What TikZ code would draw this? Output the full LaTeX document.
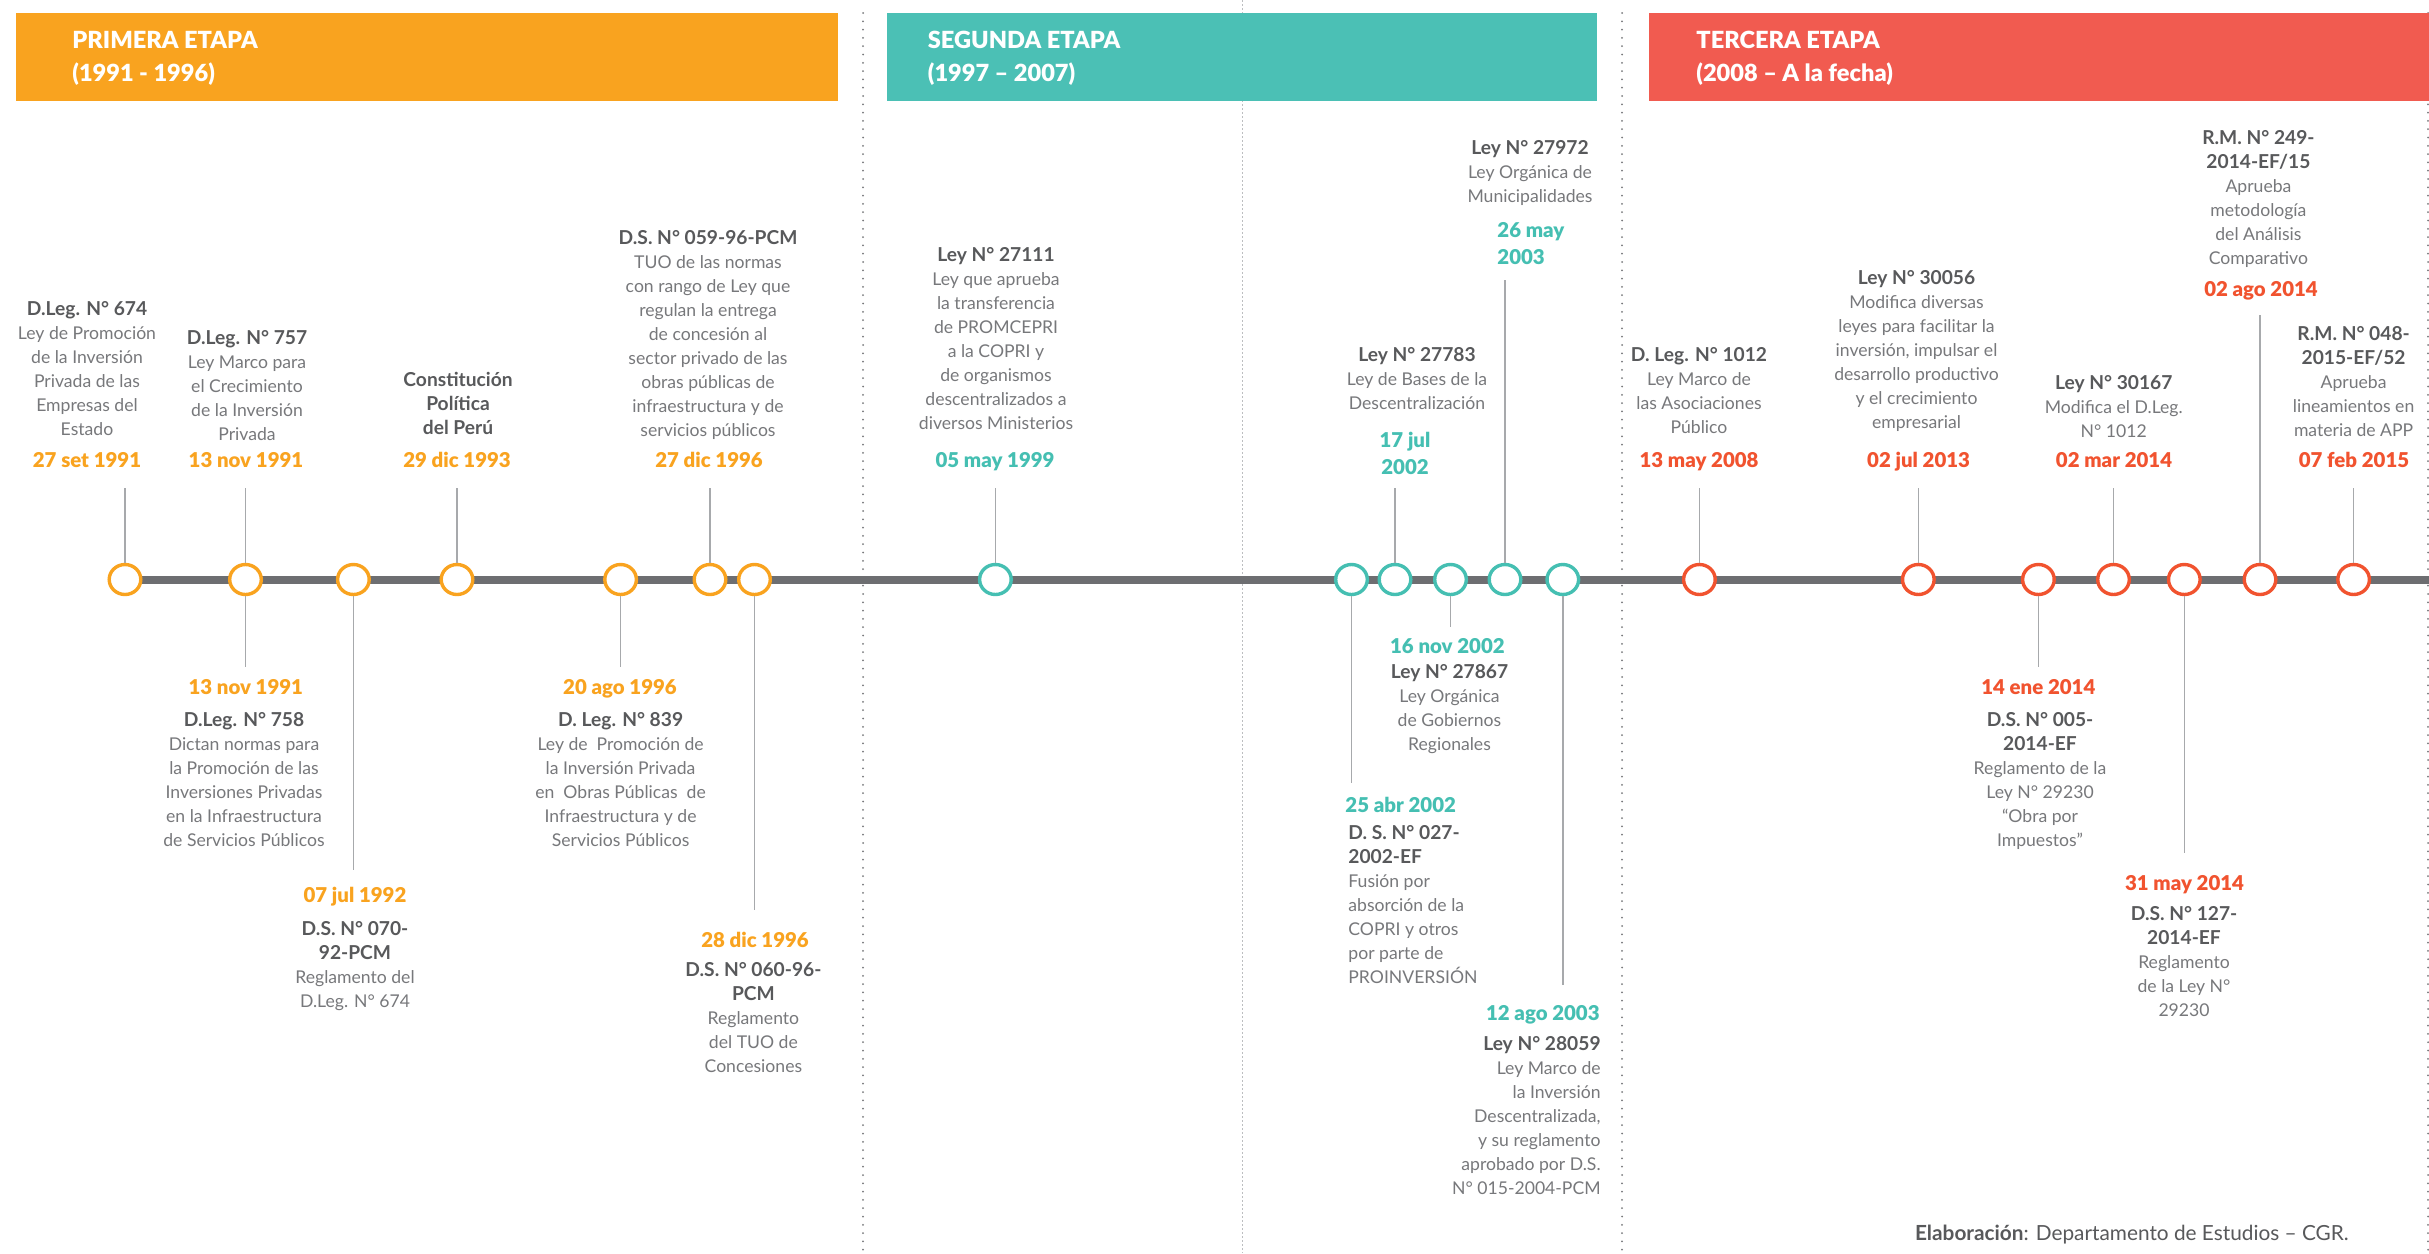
\documentclass[tikz,border=0pt]{standalone}
\usepackage{fontspec}
\setmainfont{Lato}[BoldFont={Lato Bold}]
\newfontfamily\datef{Lato Black}
\newfontfamily\regf{Lato}[BoldFont={Lato Bold}]
\usetikzlibrary{shapes.geometric}
\definecolor{orH}{HTML}{F9A31F}
\definecolor{orD}{HTML}{F9A31F}
\definecolor{tlH}{HTML}{4BC0B5}
\definecolor{tlD}{HTML}{45BFB2}
\definecolor{rdH}{HTML}{F15B50}
\definecolor{rdD}{HTML}{F1532F}
\definecolor{bargray}{HTML}{6D6E71}
\definecolor{conngray}{HTML}{A7A9AC}
\definecolor{bodygray}{HTML}{77787B}
\definecolor{titlegray}{HTML}{58595B}
\definecolor{dotdark}{HTML}{77787B}
\definecolor{dotlight}{HTML}{BCBEC0}
\newcommand\ttl[1]{\rule{0pt}{9pt}{\fontsize{9.6}{12}\selectfont\bfseries\color{titlegray}#1}}
\newcommand\ttb[1]{{\fontsize{9.6}{12}\selectfont\bfseries\color{titlegray}#1}}
\begin{document}
\begin{tikzpicture}[x=0.5pt,y=-0.5pt,
  circ/.style={ellipse, draw=#1, line width=1.7pt, fill=white, minimum width=15.8pt, minimum height=15pt, inner sep=0pt},
  conn/.style={draw=conngray, line width=0.8pt},
  desc/.style={font=\fontsize{8.8}{12}\selectfont, text=bodygray, align=center, inner sep=0pt, anchor=north},
  datelbl/.style={font=\datef\fontsize{10.2}{13.5}\selectfont, text=#1, inner sep=0pt, anchor=base},
  hdrtxt/.style={font=\datef\fontsize{11.8}{16.5}\selectfont, text=white, align=left, inner sep=0pt, anchor=north west},
  dkdots/.style={draw=dotdark, line width=1pt, dash pattern=on 0pt off 4.15pt, line cap=round},
  ltdots/.style={draw=dotlight, line width=0.5pt, dash pattern=on 0.8pt off 1.2pt}]
\useasboundingbox (0,0) rectangle (2429,1253);
\fill[white] (0,0) rectangle (2429,1253);
% dividers
\draw[ltdots] (1242,0) -- (1242,1253);
\draw[dkdots] (863,13) -- (863,1253);
\draw[dkdots] (1622,13) -- (1622,1253);
\draw[dkdots] (2428,13) -- (2428,1253);
% headers
\fill[orH] (16,13) rectangle (838,101);
\fill[tlH] (887,13) rectangle (1597,101);
\fill[rdH] (1648.6,13) rectangle (2429,101);
\node[hdrtxt] (h1) at (72,24) {\rule{0pt}{12pt}PRIMERA ETAPA\\(1991 - 1996)};
\node[hdrtxt] (h2) at (927.5,24) {\rule{0pt}{12pt}SEGUNDA ETAPA\\(1997 – 2007)};
\node[hdrtxt] (h3) at (1696,24) {\rule{0pt}{12pt}TERCERA ETAPA\\(2008 – A la fecha)};
% timeline bar
\coordinate (barstart) at (125,579.5);
\coordinate (barend) at (2429,579.5);
\draw[bargray, line width=4pt] (barstart) -- (barend);
% circles
\node[circ=orD] (o1) at (125,579.5) {};
\node[circ=orD] (o2) at (245.5,579.5) {};
\node[circ=orD] (o3) at (353.4,579.5) {};
\node[circ=orD] (o4) at (457,579.5) {};
\node[circ=orD] (o5) at (620.6,579.5) {};
\node[circ=orD] (o6) at (710,579.5) {};
\node[circ=orD] (o7) at (754.5,579.5) {};
\node[circ=tlD] (t1) at (995.4,579.5) {};
\node[circ=tlD] (t2) at (1351.5,579.5) {};
\node[circ=tlD] (t3) at (1395,579.5) {};
\node[circ=tlD] (t4) at (1450.5,579.5) {};
\node[circ=tlD] (t5) at (1505,579.5) {};
\node[circ=tlD] (t6) at (1562.8,579.5) {};
\node[circ=rdD] (r1) at (1699.4,579.5) {};
\node[circ=rdD] (r2) at (1918.3,579.5) {};
\node[circ=rdD] (r3) at (2038.4,579.5) {};
\node[circ=rdD] (r4) at (2113.5,579.5) {};
\node[circ=rdD] (r5) at (2184.3,579.5) {};
\node[circ=rdD] (r6) at (2260,579.5) {};
\node[circ=rdD] (r7) at (2353.6,579.5) {};
% connector ends
\coordinate (o1u) at (125,488);
\coordinate (o2u) at (245.5,488);
\coordinate (o2d) at (245.5,667);
\coordinate (o3d) at (353.4,870);
\coordinate (o4u) at (457,488);
\coordinate (o5d) at (620.6,667);
\coordinate (o6u) at (710,488);
\coordinate (o7d) at (754.5,909.5);
\coordinate (t1u) at (995.4,488);
\coordinate (t2d) at (1351.5,783);
\coordinate (t3u) at (1395,488);
\coordinate (t4d) at (1450.5,626.5);
\coordinate (t5u) at (1505,280);
\coordinate (t6d) at (1562.8,985);
\coordinate (r1u) at (1699.4,488);
\coordinate (r2u) at (1918.3,488);
\coordinate (r3d) at (2038.4,666.7);
\coordinate (r4u) at (2113.5,488);
\coordinate (r5d) at (2184.3,853);
\coordinate (r6u) at (2260,315);
\coordinate (r7u) at (2353.6,488);
\draw[conn] (o1) -- (o1u);
\draw[conn] (o2) -- (o2u);
\draw[conn] (o2) -- (o2d);
\draw[conn] (o3) -- (o3d);
\draw[conn] (o4) -- (o4u);
\draw[conn] (o5) -- (o5d);
\draw[conn] (o6) -- (o6u);
\draw[conn] (o7) -- (o7d);
\draw[conn] (t1) -- (t1u);
\draw[conn] (t2) -- (t2d);
\draw[conn] (t3) -- (t3u);
\draw[conn] (t4) -- (t4d);
\draw[conn] (t5) -- (t5u);
\draw[conn] (t6) -- (t6d);
\draw[conn] (r1) -- (r1u);
\draw[conn] (r2) -- (r2u);
\draw[conn] (r3) -- (r3d);
\draw[conn] (r4) -- (r4u);
\draw[conn] (r5) -- (r5d);
\draw[conn] (r6) -- (r6u);
\draw[conn] (r7) -- (r7u);
% ---- above: primera etapa
\node[desc] (do1) at (87,297) {\ttl{D.Leg. N° 674}\\Ley de Promoción\\de la Inversión\\Privada de las\\Empresas del\\Estado};
\node[datelbl=orD] (ao1) at (87,467) {27 set 1991};
\node[desc] (do2) at (247,326) {\ttl{D.Leg. N° 757}\\Ley Marco para\\el Crecimiento\\de la Inversión\\Privada};
\node[datelbl=orD] (ao2) at (246,467) {13 nov 1991};
\node[desc] (do4) at (458,368) {\ttl{Constitución}\\\ttb{Política}\\\ttb{del Perú}};
\node[datelbl=orD] (ao4) at (457,467) {29 dic 1993};
\node[desc] (do6) at (708,226.5) {\ttl{D.S. N° 059-96-PCM}\\TUO de las normas\\con rango de Ley que\\regulan la entrega\\de concesión al\\sector privado de las\\obras públicas de\\infraestructura y de\\servicios públicos};
\node[datelbl=orD] (ao6) at (709,467) {27 dic 1996};
% ---- below: primera etapa
\node[datelbl=orD] (bo2) at (245.8,694) {13 nov 1991};
\node[desc] (eo2) at (244,708) {\ttl{D.Leg. N° 758}\\Dictan normas para\\la Promoción de las\\Inversiones Privadas\\en la Infraestructura\\de Servicios Públicos};
\node[datelbl=orD] (bo3) at (355,902) {07 jul 1992};
\node[desc] (eo3) at (355,917) {\ttl{D.S. N° 070-}\\\ttb{92-PCM}\\Reglamento del\\D.Leg. N° 674};
\node[datelbl=orD] (bo5) at (620,694) {20 ago 1996};
\node[desc] (eo5) at (620.6,708.5) {\ttl{D. Leg. N° 839}\\Ley de\ \ Promoción de\\la Inversión Privada\\en\ \ Obras Públicas\ \ de\\Infraestructura y de\\Servicios Públicos};
\node[datelbl=orD] (bo7) at (755,947) {28 dic 1996};
\node[desc] (eo7) at (753.4,958) {\ttl{D.S. N° 060-96-}\\\ttb{PCM}\\Reglamento\\del TUO de\\Concesiones};
% ---- segunda etapa
\node[desc] (dt1) at (996,243) {\ttl{Ley N° 27111}\\Ley que aprueba\\la transferencia\\de PROMCEPRI\\a la COPRI y\\de organismos\\descentralizados a\\diversos Ministerios};
\node[datelbl=tlD] (at1) at (995,467) {05 may 1999};
\node[desc] (dt3) at (1417,343) {\ttl{Ley N° 27783}\\Ley de Bases de la\\Descentralización};
\node[datelbl=tlD, anchor=north, align=center] (at3) at (1405,429) {\rule{0pt}{9pt}17 jul\\2002};
\node[desc] (dt5) at (1530,136.5) {\ttl{Ley N° 27972}\\Ley Orgánica de\\Municipalidades};
\node[datelbl=tlD, anchor=north west, align=left] (at5) at (1497,219) {\rule{0pt}{9pt}26 may\\2003};
\node[datelbl=tlD, anchor=base west] (bt2) at (1345,812) {25 abr 2002};
\node[desc, anchor=north west, align=left] (et2) at (1348,821) {\ttl{D. S. N° 027-}\\\ttb{2002-EF}\\Fusión por\\absorción de la\\COPRI y otros\\por parte de\\PROINVERSIÓN};
\node[datelbl=tlD] (bt4) at (1447.4,653) {16 nov 2002};
\node[desc] (et4) at (1449.5,660.5) {\ttl{Ley N° 27867}\\Ley Orgánica\\de Gobiernos\\Regionales};
\node[datelbl=tlD, anchor=base east] (bt6) at (1600,1020) {12 ago 2003};
\node[desc, anchor=north east, align=right] (et6) at (1601,1032) {\ttl{Ley N° 28059}\\Ley Marco de\\la Inversión\\Descentralizada,\\y su reglamento\\aprobado por D.S.\\N° 015-2004-PCM};
% ---- tercera etapa
\node[desc] (dr1) at (1699,343) {\ttl{D. Leg. N° 1012}\\Ley Marco de\\las Asociaciones\\Público};
\node[datelbl=rdD] (ar1) at (1699,467) {13 may 2008};
\node[desc] (dr2) at (1916.5,266.5) {\ttl{Ley N° 30056}\\Modifica diversas\\leyes para facilitar la\\inversión, impulsar el\\desarrollo productivo\\y el crecimiento\\empresarial};
\node[datelbl=rdD] (ar2) at (1918.6,467) {02 jul 2013};
\node[desc] (dr4) at (2113.7,371) {\ttl{Ley N° 30167}\\Modifica el D.Leg.\\N° 1012};
\node[datelbl=rdD] (ar4) at (2114,467) {02 mar 2014};
\node[desc] (dr6) at (2258.4,126.5) {\ttl{R.M. N° 249-}\\\ttb{2014-EF/15}\\Aprueba\\metodología\\del Análisis\\Comparativo};
\node[datelbl=rdD] (ar6) at (2261,296) {02 ago 2014};
\node[desc] (dr7) at (2353.6,322.5) {\ttl{R.M. N° 048-}\\\ttb{2015-EF/52}\\Aprueba\\lineamientos en\\materia de APP};
\node[datelbl=rdD] (ar7) at (2354,467) {07 feb 2015};
\node[datelbl=rdD] (br3) at (2038.3,694) {14 ene 2014};
\node[desc] (er3) at (2040,708.5) {\ttl{D.S. N° 005-}\\\ttb{2014-EF}\\Reglamento de la\\Ley N° 29230\\“Obra por\\Impuestos”};
\node[datelbl=rdD] (br5) at (2184.5,890) {31 may 2014};
\node[desc] (er5) at (2184,902.5) {\ttl{D.S. N° 127-}\\\ttb{2014-EF}\\Reglamento\\de la Ley N°\\29230};
% credit
\node[font=\regf\fontsize{10.4}{12}\selectfont, text=titlegray, inner sep=0pt, anchor=base west] (credit) at (1914.6,1240) {\textbf{Elaboración}: Departamento de Estudios – CGR.};
\end{tikzpicture}
\end{document}
